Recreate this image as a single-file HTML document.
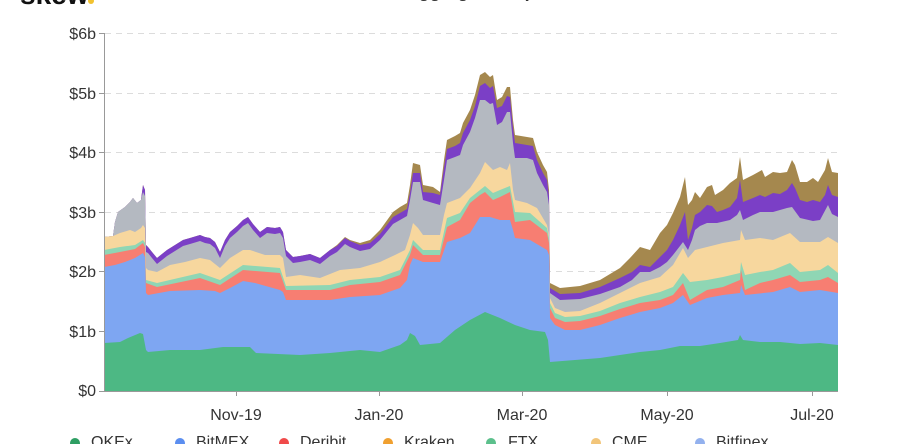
<!DOCTYPE html>
<html>
<head>
<meta charset="utf-8">
<style>
html,body{margin:0;padding:0;background:#fff;}
body{width:904px;height:444px;overflow:hidden;position:relative;font-family:"Liberation Sans",sans-serif;}
svg{position:absolute;left:0;top:0;}
</style>
</head>
<body>
<svg width="904" height="444" viewBox="0 0 904 444" xmlns="http://www.w3.org/2000/svg" font-family="Liberation Sans, sans-serif">
  <!-- logo and title (cut off at top) -->
  <text x="20" y="4" font-size="28" font-weight="bold" fill="#111">skew</text>
  <circle cx="91" cy="1" r="3" fill="#f2c230"/>
  <text x="460" y="-3" font-size="18" font-weight="bold" fill="#333" text-anchor="middle">BTC Futures Aggregated Open Interest</text>

  <!-- gridlines -->
  <g stroke="#dcdcdc" stroke-width="1" stroke-dasharray="6,5">
    <line x1="105" y1="33.5" x2="838" y2="33.5"/>
    <line x1="105" y1="93.5" x2="838" y2="93.5"/>
    <line x1="105" y1="152.5" x2="838" y2="152.5"/>
    <line x1="105" y1="212.5" x2="838" y2="212.5"/>
    <line x1="105" y1="271.5" x2="838" y2="271.5"/>
    <line x1="105" y1="331.5" x2="838" y2="331.5"/>
  </g>

  <!-- brown -->
  <polygon fill="#a5884e" points="104,237 113,236 115,222 118,212 125,207 130,202 133,198 137,203 141,200 143,185 145,190 146,245 148,247 152,252 157,258 162,254 167,250 175,245 183,240 190,238 200,235 205,237 210,238 215,242 220,252 225,240 230,232 237,226 243,220 248,217 253,224 260,232 267,227 275,228 280,227 283,232 286,250 293,257 300,256 310,254 320,258 330,250 337,245 345,237 350,240 360,243 370,240 380,230 393,212 400,207 407,203 410,185 413,163 420,165 423,185 433,187 440,192 444,160 447,140 455,136 460,133 463,123 470,110 475,95 480,75 485,72 490,77 493,75 497,100 502,97 507,87 510,87 513,120 515,135 527,137 533,138 537,152 543,165 547,172 549,190 550,283 560,288 580,286 600,280 620,268 630,258 640,247 650,250 660,233 667,225 673,213 680,197 685,177 688,205 692,200 695,192 700,198 707,187 712,185 715,195 723,190 730,183 737,178 740,157 743,180 753,175 762,170 765,177 773,172 780,173 787,172 792,160 795,165 800,182 807,182 813,178 818,182 825,170 828,158 832,172 838,173 838,391 104,391"/>
  <!-- purple -->
  <polygon fill="#7b3fc6" points="104,237 113,236 115,222 118,212 125,207 130,202 133,198 137,203 141,200 143,185 145,190 146,245 148,247 152,252 157,258 162,254 167,250 175,245 183,240 190,238 200,235 205,237 210,238 215,242 220,252 225,240 230,232 237,226 243,220 248,217 253,224 260,232 267,227 275,228 280,227 283,232 286,250 293,257 300,256 310,254 320,258 330,250 337,246 345,238 350,241 360,245 370,243 380,234 393,217 400,213 407,209 410,193 413,173 420,173 423,192 433,193 440,195 444,168 447,149 455,146 460,143 463,133 470,120 475,106 480,86 485,83 490,88 493,86 497,108 502,106 507,96 510,97 513,128 515,143 527,145 533,146 537,160 543,173 547,180 549,196 550,288 560,294 580,293 600,287 620,278 632,272 640,265 650,267 660,257 667,250 673,240 680,225 685,212 688,240 692,228 695,215 700,212 707,205 712,206 717,212 723,210 730,207 737,198 740,180 743,202 753,198 760,195 765,197 773,193 780,194 787,190 792,183 795,188 800,200 807,202 813,200 820,202 825,195 828,185 832,195 838,197 838,391 104,391"/>
  <!-- gray -->
  <polygon fill="#b4b9c1" points="104,237 113,236 115,222 118,212 125,207 130,202 133,198 137,203 141,200 143,192 145,196 146,252 148,253 152,258 157,264 162,260 167,256 175,251 183,246 190,244 200,241 205,243 210,244 215,248 220,258 225,246 230,238 237,232 243,226 248,223 253,230 260,238 267,233 275,234 280,233 283,238 286,256 293,263 300,262 310,260 320,264 330,256 337,252 345,244 350,247 360,251 370,249 380,240 393,224 400,220 407,216 410,200 413,182 420,182 423,200 433,203 440,205 444,180 447,160 455,157 460,155 463,145 470,132 475,118 480,100 485,100 490,104 493,103 497,125 502,122 507,112 510,112 513,143 515,158 527,158 533,160 537,173 543,185 547,192 549,205 550,293 560,300 580,299 600,294 620,287 632,280 640,272 650,272 660,267 667,262 673,255 680,246 683,242 688,250 692,240 695,230 700,226 707,223 717,223 730,220 737,215 740,210 743,220 753,215 760,212 773,212 787,208 792,207 800,218 813,221 820,220 828,205 832,214 838,217 838,391 104,391"/>
  <!-- tan (CME) -->
  <polygon fill="#f7d79e" points="104,237 113,236 120,233 130,230 135,232 141,228 143,225 145,228 146,268 148,270 157,272 170,265 185,262 200,258 210,260 220,268 230,258 243,250 250,250 265,255 280,255 283,258 286,277 300,275 320,278 340,270 360,268 380,262 395,255 405,250 410,235 413,223 418,228 423,235 440,235 444,215 447,203 460,198 470,188 480,173 485,162 493,170 500,167 507,170 510,163 513,190 515,200 527,203 537,208 547,225 549,235 550,298 555,308 565,312 580,311 600,303 620,293 640,283 660,277 673,265 683,248 688,258 695,250 707,247 723,243 740,240 741,230 745,240 760,238 773,240 790,233 800,242 820,242 828,237 838,243 838,391 104,391"/>
  <!-- mint (FTX) -->
  <polygon fill="#8fd6b4" points="104,250 120,247 135,245 143,240 145,243 146,280 157,283 200,273 220,280 243,265 280,268 286,286 330,285 350,280 380,277 400,270 410,250 413,240 423,250 440,250 447,218 460,213 470,198 480,190 485,186 493,193 500,190 510,186 515,212 530,213 547,228 549,238 550,303 555,313 565,317 580,316 600,311 620,303 640,297 660,292 673,287 683,273 690,282 707,280 723,277 740,273 741,262 745,275 760,272 773,270 790,263 800,272 820,270 828,265 838,273 838,391 104,391"/>
  <!-- red (Deribit) -->
  <polygon fill="#f77e72" points="104,255 120,252 135,249 143,243 145,247 146,283 157,287 200,278 220,285 243,270 280,273 286,290 330,290 350,285 380,282 400,275 410,255 413,245 423,255 440,255 447,227 460,220 470,203 480,195 485,192 493,200 500,197 510,192 515,222 530,220 547,233 549,243 550,308 555,318 565,322 580,321 600,316 620,309 640,303 660,300 673,295 683,283 690,300 707,290 723,287 740,280 741,270 745,290 760,283 773,280 790,275 800,282 820,280 828,277 838,283 838,391 104,391"/>
  <!-- blue (BitMEX) -->
  <polygon fill="#7ea6f2" points="104,267 115,265 125,262 135,258 143,253 145,257 146,293 148,295 170,291 200,290 215,291 220,293 230,288 243,281 255,283 280,290 283,292 286,300 330,300 350,297 380,295 400,288 407,280 410,265 413,258 423,262 440,262 447,242 460,238 470,233 480,217 490,217 500,220 510,220 513,230 515,238 530,240 547,250 549,255 550,318 555,325 565,330 580,330 600,325 620,318 640,312 660,308 673,303 683,295 690,305 707,298 723,295 740,293 741,285 745,295 773,292 790,287 800,292 820,290 838,293 838,391 104,391"/>
  <!-- green (OKEx) -->
  <polygon fill="#4db884" points="104,343 120,342 128,338 140,333 143,334 146,350 148,352 170,350 200,350 223,347 250,347 256,353 300,355 330,353 360,350 380,352 400,345 407,340 410,333 415,336 420,345 440,343 455,330 470,320 485,312 500,318 515,325 530,330 545,332 548,340 550,362 600,358 620,355 640,352 660,350 680,346 700,346 720,343 738,340 740,335 743,340 760,342 780,342 800,344 820,343 838,345 838,391 104,391"/>

  <!-- axes -->
  <g stroke="#999" stroke-width="1">
    <line x1="104.5" y1="33" x2="104.5" y2="391"/>
    <line x1="104" y1="391.5" x2="838" y2="391.5"/>
    <line x1="99" y1="33.5" x2="104" y2="33.5"/>
    <line x1="99" y1="93.5" x2="104" y2="93.5"/>
    <line x1="99" y1="152.5" x2="104" y2="152.5"/>
    <line x1="99" y1="212.5" x2="104" y2="212.5"/>
    <line x1="99" y1="271.5" x2="104" y2="271.5"/>
    <line x1="99" y1="331.5" x2="104" y2="331.5"/>
    <line x1="99" y1="391.5" x2="104" y2="391.5"/>
    <line x1="236.5" y1="391" x2="236.5" y2="396"/>
    <line x1="379.5" y1="391" x2="379.5" y2="396"/>
    <line x1="522.5" y1="391" x2="522.5" y2="396"/>
    <line x1="667.5" y1="391" x2="667.5" y2="396"/>
    <line x1="812.5" y1="391" x2="812.5" y2="396"/>
  </g>

  <!-- y labels -->
  <g font-size="16" fill="#333" text-anchor="end">
    <text x="96" y="39">$6b</text>
    <text x="96" y="99">$5b</text>
    <text x="96" y="158">$4b</text>
    <text x="96" y="218">$3b</text>
    <text x="96" y="277">$2b</text>
    <text x="96" y="337">$1b</text>
    <text x="96" y="396">$0</text>
  </g>

  <!-- x labels -->
  <g font-size="16" fill="#333" text-anchor="middle">
    <text x="236" y="420">Nov-19</text>
    <text x="379" y="420">Jan-20</text>
    <text x="522" y="420">Mar-20</text>
    <text x="667" y="420">May-20</text>
    <text x="812" y="420">Jul-20</text>
  </g>

  <!-- legend (partially cut) -->
  <g font-size="16" fill="#333">
    <circle cx="75" cy="443" r="5" fill="#2e9e63"/><text x="91" y="447">OKEx</text>
    <circle cx="180" cy="443" r="5" fill="#5b8ef0"/><text x="196" y="447">BitMEX</text>
    <circle cx="284" cy="443" r="5" fill="#f04a4a"/><text x="300" y="447">Deribit</text>
    <circle cx="388" cy="443" r="5" fill="#f0a030"/><text x="404" y="447">Kraken</text>
    <circle cx="491" cy="443" r="5" fill="#5cc08c"/><text x="508" y="447">FTX</text>
    <circle cx="596" cy="443" r="5" fill="#f2c57a"/><text x="612" y="447">CME</text>
    <circle cx="700" cy="443" r="5" fill="#93b1ee"/><text x="716" y="447">Bitfinex</text>
  </g>
</svg>
</body>
</html>
